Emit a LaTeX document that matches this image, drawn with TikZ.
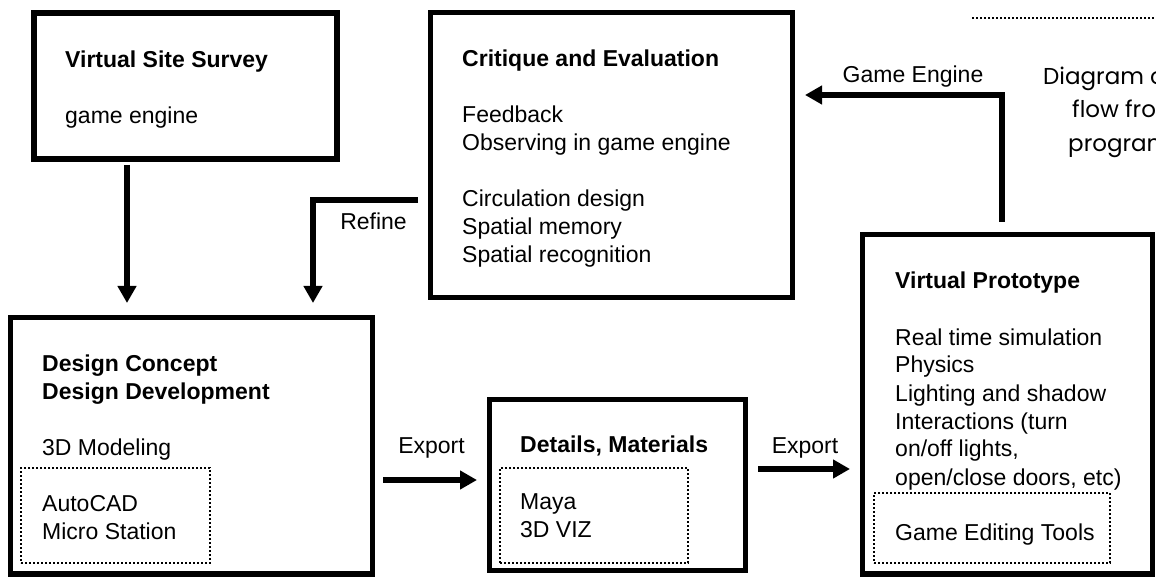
\documentclass[tikz,border=0pt]{standalone}
\usepackage{fontspec}
\setmainfont{Liberation Sans}
\newfontfamily\capfont{Poppins}
\usetikzlibrary{positioning, arrows.meta, calc}
% text block whose baseline is that of its first line
\newcommand{\textlines}[1]{\begin{tabular}[t]{@{}l@{}}#1\end{tabular}}

\begin{document}
\begin{tikzpicture}[
    x=1pt, y=-1pt,
    box/.style={draw, line width=5.5pt, inner sep=0pt, outer sep=0pt},
    subbox/.style={draw, line width=1.8pt, dash pattern=on 1.8pt off 2.2pt, inner sep=0pt, outer sep=0pt},
    txt/.style={anchor=base west, inner sep=0pt, font=\fontsize{23}{28}\selectfont},
    lbl/.style={anchor=base, inner sep=0pt, font=\fontsize{23}{28}\selectfont},
    captxt/.style={anchor=base west, inner sep=0pt, font=\capfont\fontsize{23}{28}\selectfont},
    arrow/.style={-{Triangle[width=18pt, length=17pt]}, line width=6pt},
  ]
  \useasboundingbox (0,0) rectangle (1156,577);
  % Boxes
  \node[box, minimum width=303pt, minimum height=146pt] (survey) at (185.5,86) {};
  \node[box, minimum width=362pt, minimum height=285pt] (critique) at (611.5,155) {};
  \node[box, minimum width=362pt, minimum height=256.5pt] (design) at (191.5,445.75) {};
  \node[box, minimum width=256pt, minimum height=171pt] (details) at (617.5,485) {};
  \node[box, minimum width=290pt, minimum height=339.5pt] (proto) at (1007.5,404.25) {};
  % Tool frames
  \node[subbox, minimum width=189pt, minimum height=95pt] (designtools) at (115.5,515.5) {};
  \node[subbox, minimum width=188pt, minimum height=95pt] (detailtools) at (594,515.5) {};
  \node[subbox, minimum width=236pt, minimum height=70pt] (prototools) at (992,528) {};
  % Box texts
  \node[txt] (surveytxt) at ($(survey.north west)+(31,55)$)
    {\textlines{\textbf{Virtual Site Survey}\\[28pt]game engine}};
  \node[txt] (critiquetxt) at ($(critique.north west)+(31.5,54.5)$)
    {\textlines{\textbf{Critique and Evaluation}\\[28pt]Feedback\\Observing in game engine\\[28pt]Circulation design\\Spatial memory\\Spatial recognition}};
  \node[txt] (designtxt) at ($(design.north west)+(31.5,53.5)$)
    {\textlines{\textbf{Design Concept}\\\textbf{Design Development}\\[28pt]3D Modeling}};
  \node[txt] (designtoolstxt) at ($(designtools.north west)+(21,43)$) {\textlines{AutoCAD\\Micro Station}};
  \node[txt] (detailstxt) at ($(details.north west)+(30.5,53)$) {\textbf{Details, Materials}};
  \node[txt] (detailtoolstxt) at ($(detailtools.north west)+(20,41)$) {\textlines{Maya\\3D VIZ}};
  \node[txt] (prototxt) at ($(proto.north west)+(32.5,54.5)$)
    {\textlines{\textbf{Virtual Prototype}\\[28pt]Real time simulation\\Physics\\Lighting and shadow\\Interactions (turn\\on/off lights,\\open/close doors, etc)}};
  \node[txt] (prototoolstxt) at ($(prototools.north west)+(21,47)$) {Game Editing Tools};
  % Arrows
  \draw[arrow] ($(survey.south)+(-58.5,6)$) -- ($(design.north)+(-64.5,-14.5)$);
  \draw[arrow] ($(critique.west)+(-12.5,45)$) -| ($(design.north)+(121.5,-14.5)$);
  \draw[arrow] ($(design.east)+(10.5,34.25)$) -- ($(details.west)+(-12.5,-5)$);
  \draw[arrow] ($(details.east)+(12.5,-16)$) -- ($(proto.west)+(-12.5,64.75)$);
  \draw[arrow] ($(proto.north)+(-5.5,-12.5)$) |- ($(critique.east)+(12.5,-60)$);
  % Arrow labels
  \node[lbl] (refine) at (373.5,230) {Refine};
  \node[lbl] (export1) at (431.5,453) {Export};
  \node[lbl] (export2) at (805,453) {Export};
  \node[lbl] (gameengine) at (913,83) {Game Engine};
  % Caption fragment, cut by the page edge
  \begin{scope}
    \clip (0,0) rectangle (1156,577);
    \draw[line width=2pt, dash pattern=on 2pt off 2pt] (972,18) -- (1160,18);
    \node[captxt] (cap1) at (1043,85) {Diagram of};
    \node[captxt] (cap2) at (1072,118) {flow from};
    \node[captxt] (cap3) at (1068,152) {program};
  \end{scope}
\end{tikzpicture}
\end{document}
